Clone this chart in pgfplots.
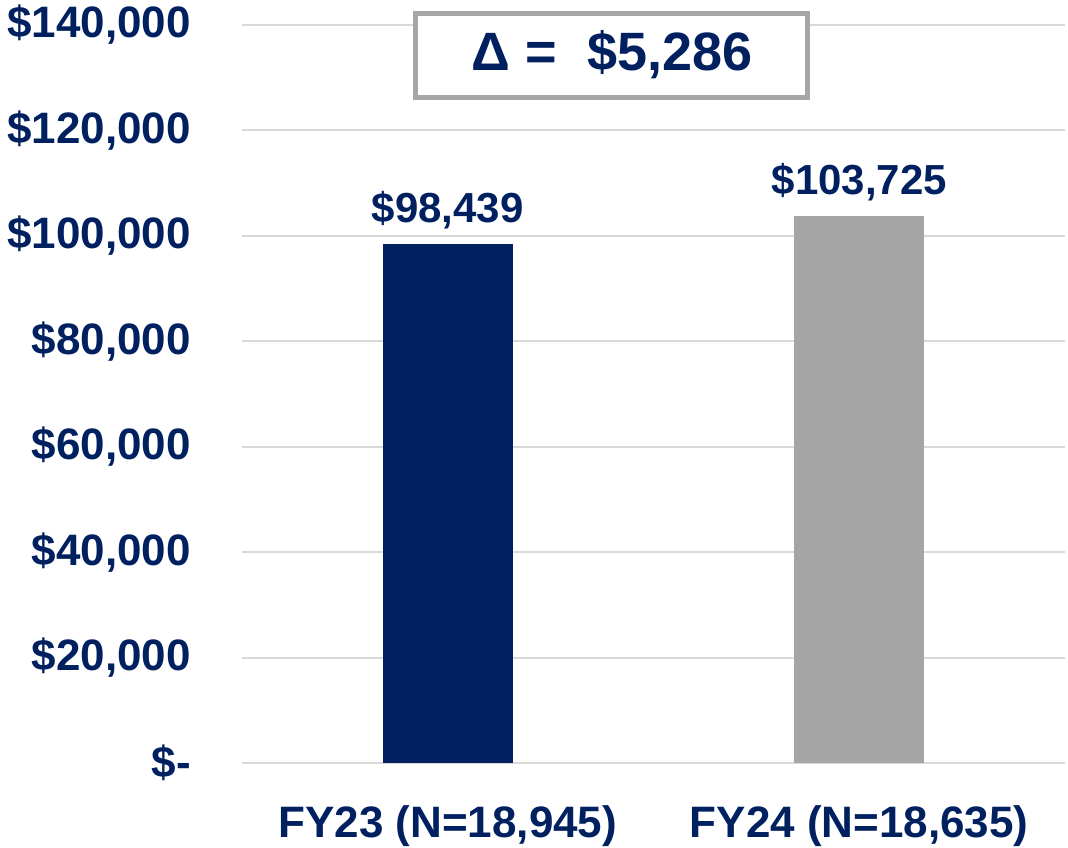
\documentclass[border=0pt]{standalone}
\usepackage{pgfplots}
\pgfplotsset{compat=1.18}
\usepackage{fontspec}
\setmainfont{Liberation Sans}
\definecolor{navy}{HTML}{002060}
\definecolor{barGray}{HTML}{A5A5A5}
\definecolor{gridGray}{HTML}{D9D9D9}
\definecolor{boxGray}{HTML}{A6A6A6}
\begin{document}
\begin{tikzpicture}
\begin{axis}[
    name=ax,
    at={(0,0)}, anchor=south west,
    scale only axis,
    width=411.5pt, height=369pt,
    ybar, bar width=65pt, bar shift=0pt,
    xmin=-0.5, xmax=1.5,
    ymin=0, ymax=140000,
    scaled y ticks=false,
    axis line style={draw=none},
    xtick={0,1},
    xticklabels={{FY23 (N=18,945)}, {FY24 (N=18,635)}},
    ytick={0,20000,40000,60000,80000,100000,120000,140000},
    yticklabels={{\$-}, {\$20,000}, {\$40,000}, {\$60,000}, {\$80,000}, {\$100,000}, {\$120,000}, {\$140,000}},
    major tick length=0pt,
    ymajorgrids,
    grid style={gridGray, line width=1pt},
    ticklabel style={font=\fontsize{22}{25}\selectfont\bfseries, text=navy},
    yticklabel style={anchor=east, xshift=-22pt},
    xticklabel style={yshift=-18pt},
    nodes near coords,
    point meta=explicit symbolic,
    every node near coord/.append style={font=\fontsize{21}{24}\selectfont\bfseries, text=navy, yshift=4pt},
    clip=false,
]
\addplot[fill=navy, draw=none] coordinates {(0,98439) [\$98,439]};
\addplot[fill=barGray, draw=none] coordinates {(1,103725) [\$103,725]};
\node[draw=boxGray, line width=2.5pt, fill=white, minimum width=196pt, minimum height=42pt,
      font=\fontsize{27}{31}\selectfont\bfseries, text=navy]
      at (axis cs:0.399,134300) {Δ =\ \ \$5,286};
\end{axis}
\pgfresetboundingbox
\path (-121pt,-42pt) rectangle (413pt,381.5pt);
\end{tikzpicture}
\end{document}
